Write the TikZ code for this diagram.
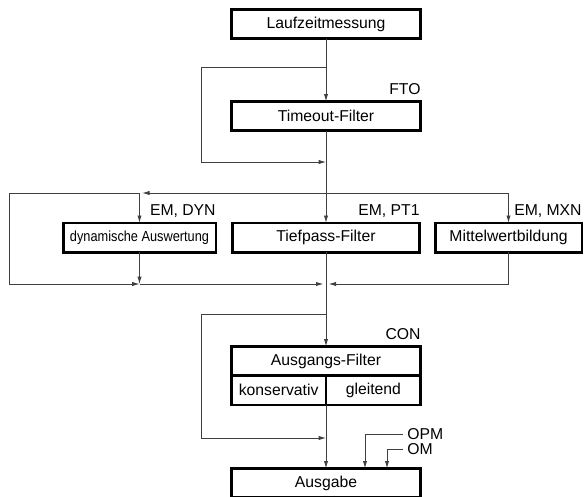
\documentclass[tikz,border=0pt]{standalone}
\usepackage{fontspec}
\usepackage{graphicx}
\setmainfont{Liberation Sans}
\usetikzlibrary{arrows.meta,positioning}

\tikzset{
  blk/.style={draw, line width=2pt, minimum width=#1, minimum height=22pt,
    inner sep=0pt, outer sep=0pt, font=\fontsize{11.8}{14}\selectfont},
  blk/.default=142.2pt,
  lbl/.style={inner sep=0pt, font=\fontsize{11.8}{14}\selectfont},
  conn/.style={draw=black!75, line width=0.6pt},
  arr/.style={conn, -{Latex[length=5.5pt,width=3.2pt]}},
}

\begin{document}
\begin{tikzpicture}[x=0.75pt,y=0.75pt,yscale=-1,xscale=1]
\useasboundingbox (0,0) rectangle (588,496);

% Boxes
\node[blk] (lzm) at (326,24) {Laufzeitmessung};
\node[blk] (tof) at (326,116) {Timeout-Filter};
\node[blk=114.5pt] (dyn) at (139.5,237.5) {\scalebox{0.87}[1]{\fontsize{11}{13}\selectfont dynamische Auswertung}};
\node[blk=140.7pt] (tpf) at (326,237.5) {Tiefpass-Filter};
\node[blk=110pt] (mwb) at (508.5,237.5) {Mittelwertbildung};
\node[blk] (afh) at (326,361) {Ausgangs-Filter};
\node[blk=71.1pt, anchor=north west] (afk) at (afh.south west) {konservativ};
\node[blk=71.1pt, anchor=north east] (afg) at (afh.south east) {gleitend};
\node[blk] (aus) at (326,483) {Ausgabe};

% Text Node
\node[lbl, anchor=base east] (fto) at ([yshift=-5.5pt]tof.north east) {FTO};
\node[lbl, anchor=base east] (emdyn) at ([yshift=-5.5pt]dyn.north east) {EM, DYN};
\node[lbl, anchor=base east] (empt) at ([yshift=-5.5pt]tpf.north east) {EM, PT1};
\node[lbl, anchor=base east] (emmxn) at ([yshift=-5.5pt]mwb.north east) {EM, MXN};
\node[lbl, anchor=base east] (con) at ([yshift=-5.5pt]afh.north east) {CON};
\node[lbl, anchor=west] (opm) at (407,434) {OPM};
\node[lbl, anchor=west] (om) at (407,449) {OM};

% Junctions
\coordinate (s1) at (326,67);
\coordinate (l1) at (201,67);
\coordinate (l2) at (201,162);
\coordinate (s2) at (326,162);
\coordinate (s3) at (326,193);
\coordinate (t1) at (dyn.north |- s3);
\coordinate (o1) at (9,193);
\coordinate (o2) at (9,284);
\coordinate (s4) at (326,284);
\coordinate (t2) at (dyn.south |- s4);
\coordinate (s5) at (326,314);
\coordinate (l3) at (201,314);
\coordinate (l4) at (201,438);
\coordinate (s6) at (326,438);
\coordinate (afb) at (afh.south |- afk.south);

%Straight Lines
\draw[arr] (lzm) -- (tof);
\draw[arr] (s1) -- (l1) -- (l2) -- (s2);
\draw[arr] (tof) -- (tpf);
\draw[arr] (s3) -- ([xshift=2pt]t1);
\draw[arr] (t1) -- (dyn);
\draw[arr] (s3) -| (mwb);
\draw[arr] (t1) -- (o1) -- (o2) -- (t2);
\draw[arr] (dyn) -- (t2);
\draw[arr] (t2) -- ([xshift=-2pt]s4);
\draw[arr] (mwb) |- ([xshift=2pt]s4);
\draw[arr] (tpf) -- (afh);
\draw[arr] (s5) -- (l3) -- (l4) -- (s6);
\draw[arr] (afb) -- (aus);
\draw[arr] ([xshift=-3pt]opm.west) -| ([xshift=29.25pt]aus.north);
\draw[arr] ([xshift=-3pt]om.west) -| ([xshift=45.75pt]aus.north);

\end{tikzpicture}
\end{document}
